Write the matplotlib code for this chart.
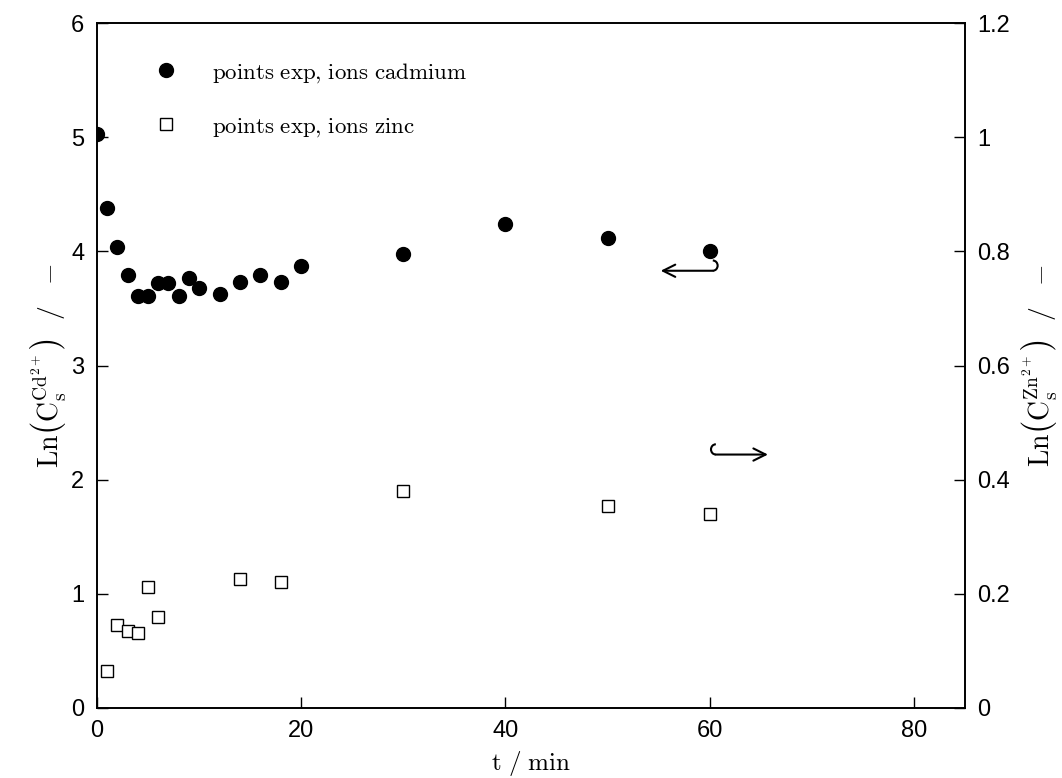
import numpy as np
import matplotlib
matplotlib.use('Agg')
import matplotlib.pyplot as plt
from matplotlib.patches import Arc

plt.rcParams['mathtext.fontset'] = 'cm'
plt.rcParams['font.family'] = ['Liberation Sans', 'DejaVu Sans']

# cadmium (left axis)
t_cd = [0, 1, 2, 3, 4, 5, 6, 7, 8, 9, 10, 12, 14, 16, 18, 20, 30, 40, 50, 60]
ln_cd = [5.03, 4.38, 4.04, 3.79, 3.61, 3.61, 3.72, 3.72, 3.61, 3.77, 3.68, 3.63,
         3.73, 3.79, 3.73, 3.87, 3.98, 4.24, 4.12, 4.00]

# zinc (right axis)
t_zn = [1, 2, 3, 4, 5, 6, 14, 18, 30, 50, 60]
ln_zn = [0.065, 0.145, 0.135, 0.132, 0.212, 0.160, 0.226, 0.220, 0.380, 0.353, 0.340]

fig = plt.figure(figsize=(10.62, 7.78), dpi=100)
ax = fig.add_axes([0.0913, 0.09, 0.8174, 0.8804])
ax2 = ax.twinx()

h1, = ax.plot(t_cd, ln_cd, 'o', color='black', markersize=10, linestyle='none',
              label=r'$\mathrm{points\ exp{,}\ ions\ cadmium}$')
h2, = ax2.plot(t_zn, ln_zn, 's', markerfacecolor='white', markeredgecolor='black',
               markeredgewidth=1.0, markersize=9, linestyle='none',
               label=r'$\mathrm{points\ exp{,}\ ions\ zinc}$')

ax.set_xlim(0, 85)
ax.set_ylim(0, 6)
ax2.set_ylim(0, 1.2)
ax.set_xticks([0, 20, 40, 60, 80])
ax.set_yticks([0, 1, 2, 3, 4, 5, 6])
ax2.set_yticks([0, 0.2, 0.4, 0.6, 0.8, 1.0, 1.2])
ax2.set_yticklabels(['0', '0.2', '0.4', '0.6', '0.8', '1', '1.2'])

ax.tick_params(axis='both', direction='in', length=8, width=1, labelsize=17, pad=9, top=False)
ax2.tick_params(axis='y', direction='in', length=8, width=1, labelsize=17, pad=9)
for a in (ax, ax2):
    for s in a.spines.values():
        s.set_linewidth(1.2)

ax.set_xlabel(r'$\mathrm{t\ /\ min}$', fontsize=18, labelpad=5)
ax.set_ylabel(r'$\mathrm{Ln}\left(\mathrm{C_s^{Cd^{2+}}}\right)\ \ /\ \ -$', fontsize=20, labelpad=2)
ax2.set_ylabel(r'$\mathrm{Ln}\left(\mathrm{C_s^{Zn^{2+}}}\right)\ \ /\ \ -$', fontsize=20, labelpad=6)

# hooked arrows pointing to the relevant axis
ax.annotate('', xy=(55.2, 3.83), xytext=(60.3, 3.83),
            arrowprops=dict(arrowstyle='->', lw=1.5, color='black',
                            mutation_scale=22, shrinkA=0, shrinkB=0))
ax.add_patch(Arc((60.3, 3.875), 0.95, 0.09, theta1=-90, theta2=90, lw=1.5, color='black'))

ax.annotate('', xy=(65.7, 2.22), xytext=(60.6, 2.22),
            arrowprops=dict(arrowstyle='->', lw=1.5, color='black',
                            mutation_scale=22, shrinkA=0, shrinkB=0))
ax.add_patch(Arc((60.6, 2.265), 0.95, 0.09, theta1=90, theta2=270, lw=1.5, color='black'))

ax.legend(handles=[h1, h2], loc='upper left', frameon=False, fontsize=16.5,
          bbox_to_anchor=(0.035, 0.969), handletextpad=1.0, labelspacing=1.3,
          borderaxespad=0.3)

fig.savefig('out.png', dpi=100)
